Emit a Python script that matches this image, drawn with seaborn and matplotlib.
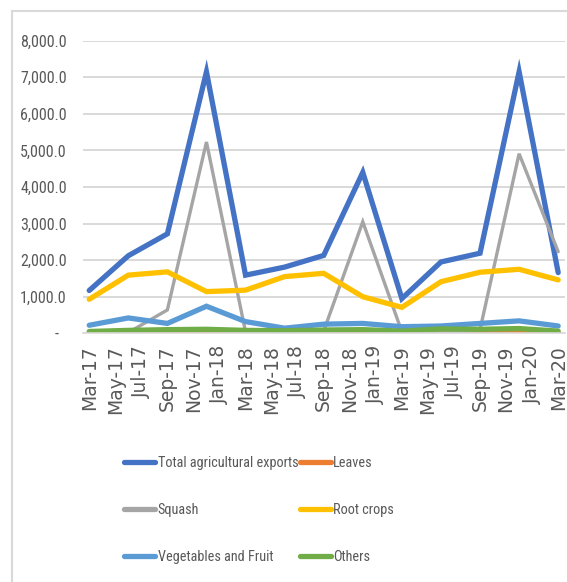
import matplotlib
matplotlib.use("Agg")
import matplotlib.pyplot as plt
import matplotlib.patches as mpatches
from matplotlib.lines import Line2D
import seaborn as sns
import pandas as pd

# ---- data (quarterly) ----
quarters = ["Mar-17", "Jun-17", "Sep-17", "Dec-17", "Mar-18", "Jun-18", "Sep-18",
            "Dec-18", "Mar-19", "Jun-19", "Sep-19", "Dec-19", "Mar-20"]
total = [1170, 2120, 2720, 7150, 1590, 1810, 2130, 4400, 950, 1950, 2190, 7150, 1660]
leaves = [10, 15, 30, 35, 20, 15, 25, 30, 20, 40, 35, 40, 15]
squash = [0, 20, 640, 5230, 40, 10, 60, 3050, 40, 10, 100, 4910, 2230]
root_crops = [930, 1590, 1680, 1140, 1180, 1550, 1640, 1000, 710, 1410, 1670, 1750, 1460]
veg_fruit = [220, 420, 270, 740, 320, 140, 250, 270, 180, 200, 270, 340, 200]
others = [50, 80, 100, 110, 80, 70, 90, 100, 60, 120, 110, 130, 60]

series_names = ["Total agricultural exports", "Leaves", "Squash", "Root crops",
                "Vegetables and Fruit", "Others"]
series_values = [total, leaves, squash, root_crops, veg_fruit, others]
colors = ["#4472C4", "#ED7D31", "#A5A5A5", "#FFC000", "#5B9BD5", "#70AD47"]
widths = [3.8, 3.8, 2.4, 3.8, 3.8, 3.8]

tick_labels = ["Mar-17", "May-17", "Jul-17", "Sep-17", "Nov-17", "Jan-18", "Mar-18",
               "May-18", "Jul-18", "Sep-18", "Nov-18", "Jan-19", "Mar-19", "May-19",
               "Jul-19", "Sep-19", "Nov-19", "Jan-20", "Mar-20"]
y_ticks = [0, 1000, 2000, 3000, 4000, 5000, 6000, 7000, 8000]
y_labels = ["-  ", "1,000.0", "2,000.0", "3,000.0", "4,000.0", "5,000.0",
            "6,000.0", "7,000.0", "8,000.0"]

# month offsets from Mar-17 (date axis with monthly base unit)
dates = pd.to_datetime(quarters, format="%b-%y")
month_idx = [(d.year - dates[0].year) * 12 + (d.month - dates[0].month) for d in dates]
tdates = pd.to_datetime(tick_labels, format="%b-%y")
tick_idx = [(d.year - dates[0].year) * 12 + (d.month - dates[0].month) for d in tdates]

sns.set_style("white")
narrow = ["DejaVu Sans Condensed", "Roboto Condensed", "Open Sans Condensed",
          "Liberation Sans"]
plt.rcParams["font.family"] = narrow
plt.rcParams["font.stretch"] = "condensed"

W, H = 567, 582
fig = plt.figure(figsize=(W / 100, H / 100), dpi=100)
ax = fig.add_axes([82.7 / W, 1 - 333.3 / H, (564.7 - 82.7) / W, (333.3 - 40.7) / H])

for name, vals, c, lw in zip(series_names, series_values, colors, widths):
    df = pd.DataFrame({"m": month_idx, "v": vals})
    sns.lineplot(data=df, x="m", y="v", ax=ax, color=c, linewidth=lw,
                 solid_capstyle="round", solid_joinstyle="miter", legend=False)

ax.set_xlim(-0.5, 36.5)
ax.set_ylim(0, 8000)
ax.set_xlabel("")
ax.set_ylabel("")

ax.set_yticks(y_ticks)
ax.set_yticklabels(y_labels, fontsize=11.5, color="#595959")
ax.tick_params(axis="y", length=0, pad=11.5)
ax.grid(axis="y", color="#D9D9D9", linewidth=1.4)
ax.set_axisbelow(True)

ax.set_xticks(tick_idx)
ax.set_xticklabels(tick_labels, rotation=90, fontsize=13.5, color="#595959",
                   family="DejaVu Sans", stretch="normal")
ax.set_xticks([t - 0.5 for t in tick_idx], minor=True)
ax.tick_params(axis="x", which="major", length=0, pad=8.5)
ax.tick_params(axis="x", which="minor", length=5, width=1.2, color="#D9D9D9")

for s in ["top", "right", "left"]:
    ax.spines[s].set_visible(False)
ax.spines["bottom"].set_color("#D9D9D9")
ax.spines["bottom"].set_linewidth(1.2)

# legend
order = [0, 2, 4, 1, 3, 5]
handles = [Line2D([0], [0], color=colors[i], linewidth=3.8, solid_capstyle="round")
           for i in order]
labels = [series_names[i] for i in order]
leg = fig.legend(handles, labels, ncol=2, loc="upper left",
                 bbox_to_anchor=(124 / W, 1 - 456 / H), frameon=False,
                 fontsize=10.3, handlelength=2.2, handletextpad=0.15,
                 columnspacing=0.1, labelspacing=2.3, borderpad=0, borderaxespad=0)
for t in leg.get_texts():
    t.set_color("#595959")

# chart-area border
fig.patches.append(mpatches.Rectangle((12 / W, -0.2), 1.0, 1.2 - 11 / H,
                                      transform=fig.transFigure, fill=False,
                                      edgecolor="#D9D9D9", linewidth=1.5))

fig.savefig("out.png", dpi=100)
